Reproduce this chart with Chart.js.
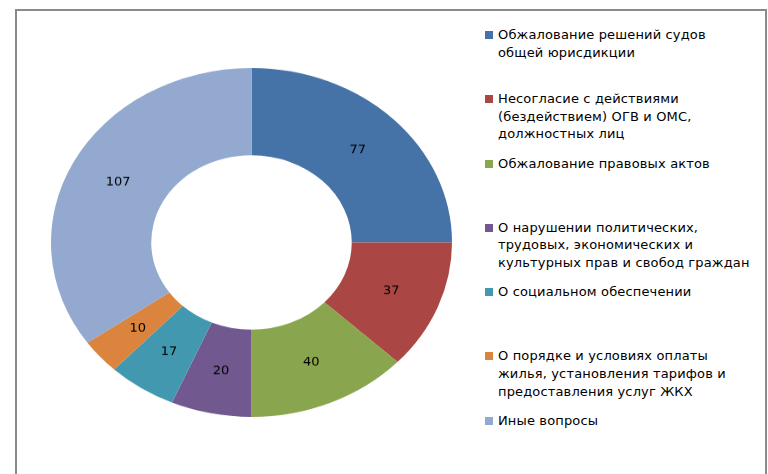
<!DOCTYPE html>
<html>
<head>
<meta charset="utf-8">
<script src="https://cdn.jsdelivr.net/npm/chart.js@4"></script>
<style>
  html, body { margin: 0; padding: 0; background: #fff; }
  body { width: 768px; height: 474px; position: relative; overflow: hidden; font-family: "DejaVu Sans", sans-serif; }
  #frame { position: absolute; left: 15px; top: 9px; width: 748px; height: 480px; border: 2px solid #8a8a8a; border-bottom: none; }
  #wrap { position: absolute; left: 51px; top: 68px; width: 401px; height: 401px; transform: scaleY(0.870); transform-origin: 0 0; }
  #legend { position: absolute; left: 485px; top: 26px; margin: 0; padding: 0; list-style: none; }
  #legend li { position: relative; height: 64.3px; padding-left: 13px; font-size: 13px; line-height: 17.6px; letter-spacing: 0.15px; color: #000; }
  #legend li span { position: absolute; left: 0; top: 5px; width: 8px; height: 8px; }
</style>
</head>
<body>
<div id="frame"></div>
<div id="wrap"><canvas id="chart" width="401" height="401"></canvas></div>
<ul id="legend"></ul>
<script>
// DATA
const labels = [
  ["Обжалование решений судов", "общей юрисдикции"],
  ["Несогласие с действиями", "(бездействием) ОГВ и ОМС,", "должностных лиц"],
  ["Обжалование правовых актов"],
  ["О нарушении политических,", "трудовых, экономических и", "культурных прав и свобод граждан"],
  ["О социальном обеспечении"],
  ["О порядке и условиях оплаты", "жилья, установления тарифов и", "предоставления услуг ЖКХ"],
  ["Иные вопросы"]
];
const counts = [77, 37, 40, 20, 17, 10, 107];
const colors = ["#4572A7", "#AA4643", "#89A54E", "#71588F", "#4198AF", "#DB843D", "#93A9CF"];

const squash = 0.870;

// value labels, drawn unsquashed
const valueLabels = {
  id: "valueLabels",
  afterDatasetsDraw(chart) {
    const ctx = chart.ctx;
    const meta = chart.getDatasetMeta(0);
    ctx.save();
    ctx.font = "13px 'DejaVu Sans', sans-serif";
    ctx.fillStyle = "#000";
    ctx.textAlign = "center";
    ctx.textBaseline = "middle";
    meta.data.forEach((arc, i) => {
      const p = arc.tooltipPosition();
      ctx.save();
      ctx.translate(p.x, p.y);
      ctx.scale(1, 1 / squash);
      ctx.fillText(String(counts[i]), 0, 0);
      ctx.restore();
    });
    ctx.restore();
  }
};

const chart = new Chart(document.getElementById("chart"), {
  type: "doughnut",
  data: {
    labels: labels,
    datasets: [{
      data: counts,
      backgroundColor: colors,
      borderWidth: 0
    }]
  },
  options: {
    responsive: false,
    animation: false,
    cutout: "50%",
    layout: { padding: 0 },
    plugins: {
      legend: { display: false },
      tooltip: { enabled: false }
    }
  },
  plugins: [valueLabels]
});

// LEGEND
const ul = document.getElementById("legend");
labels.forEach((lines, i) => {
  const li = document.createElement("li");
  const sw = document.createElement("span");
  sw.style.background = colors[i];
  li.appendChild(sw);
  lines.forEach((t, j) => {
    if (j) li.appendChild(document.createElement("br"));
    li.appendChild(document.createTextNode(t));
  });
  ul.appendChild(li);
});
</script>
</body>
</html>
